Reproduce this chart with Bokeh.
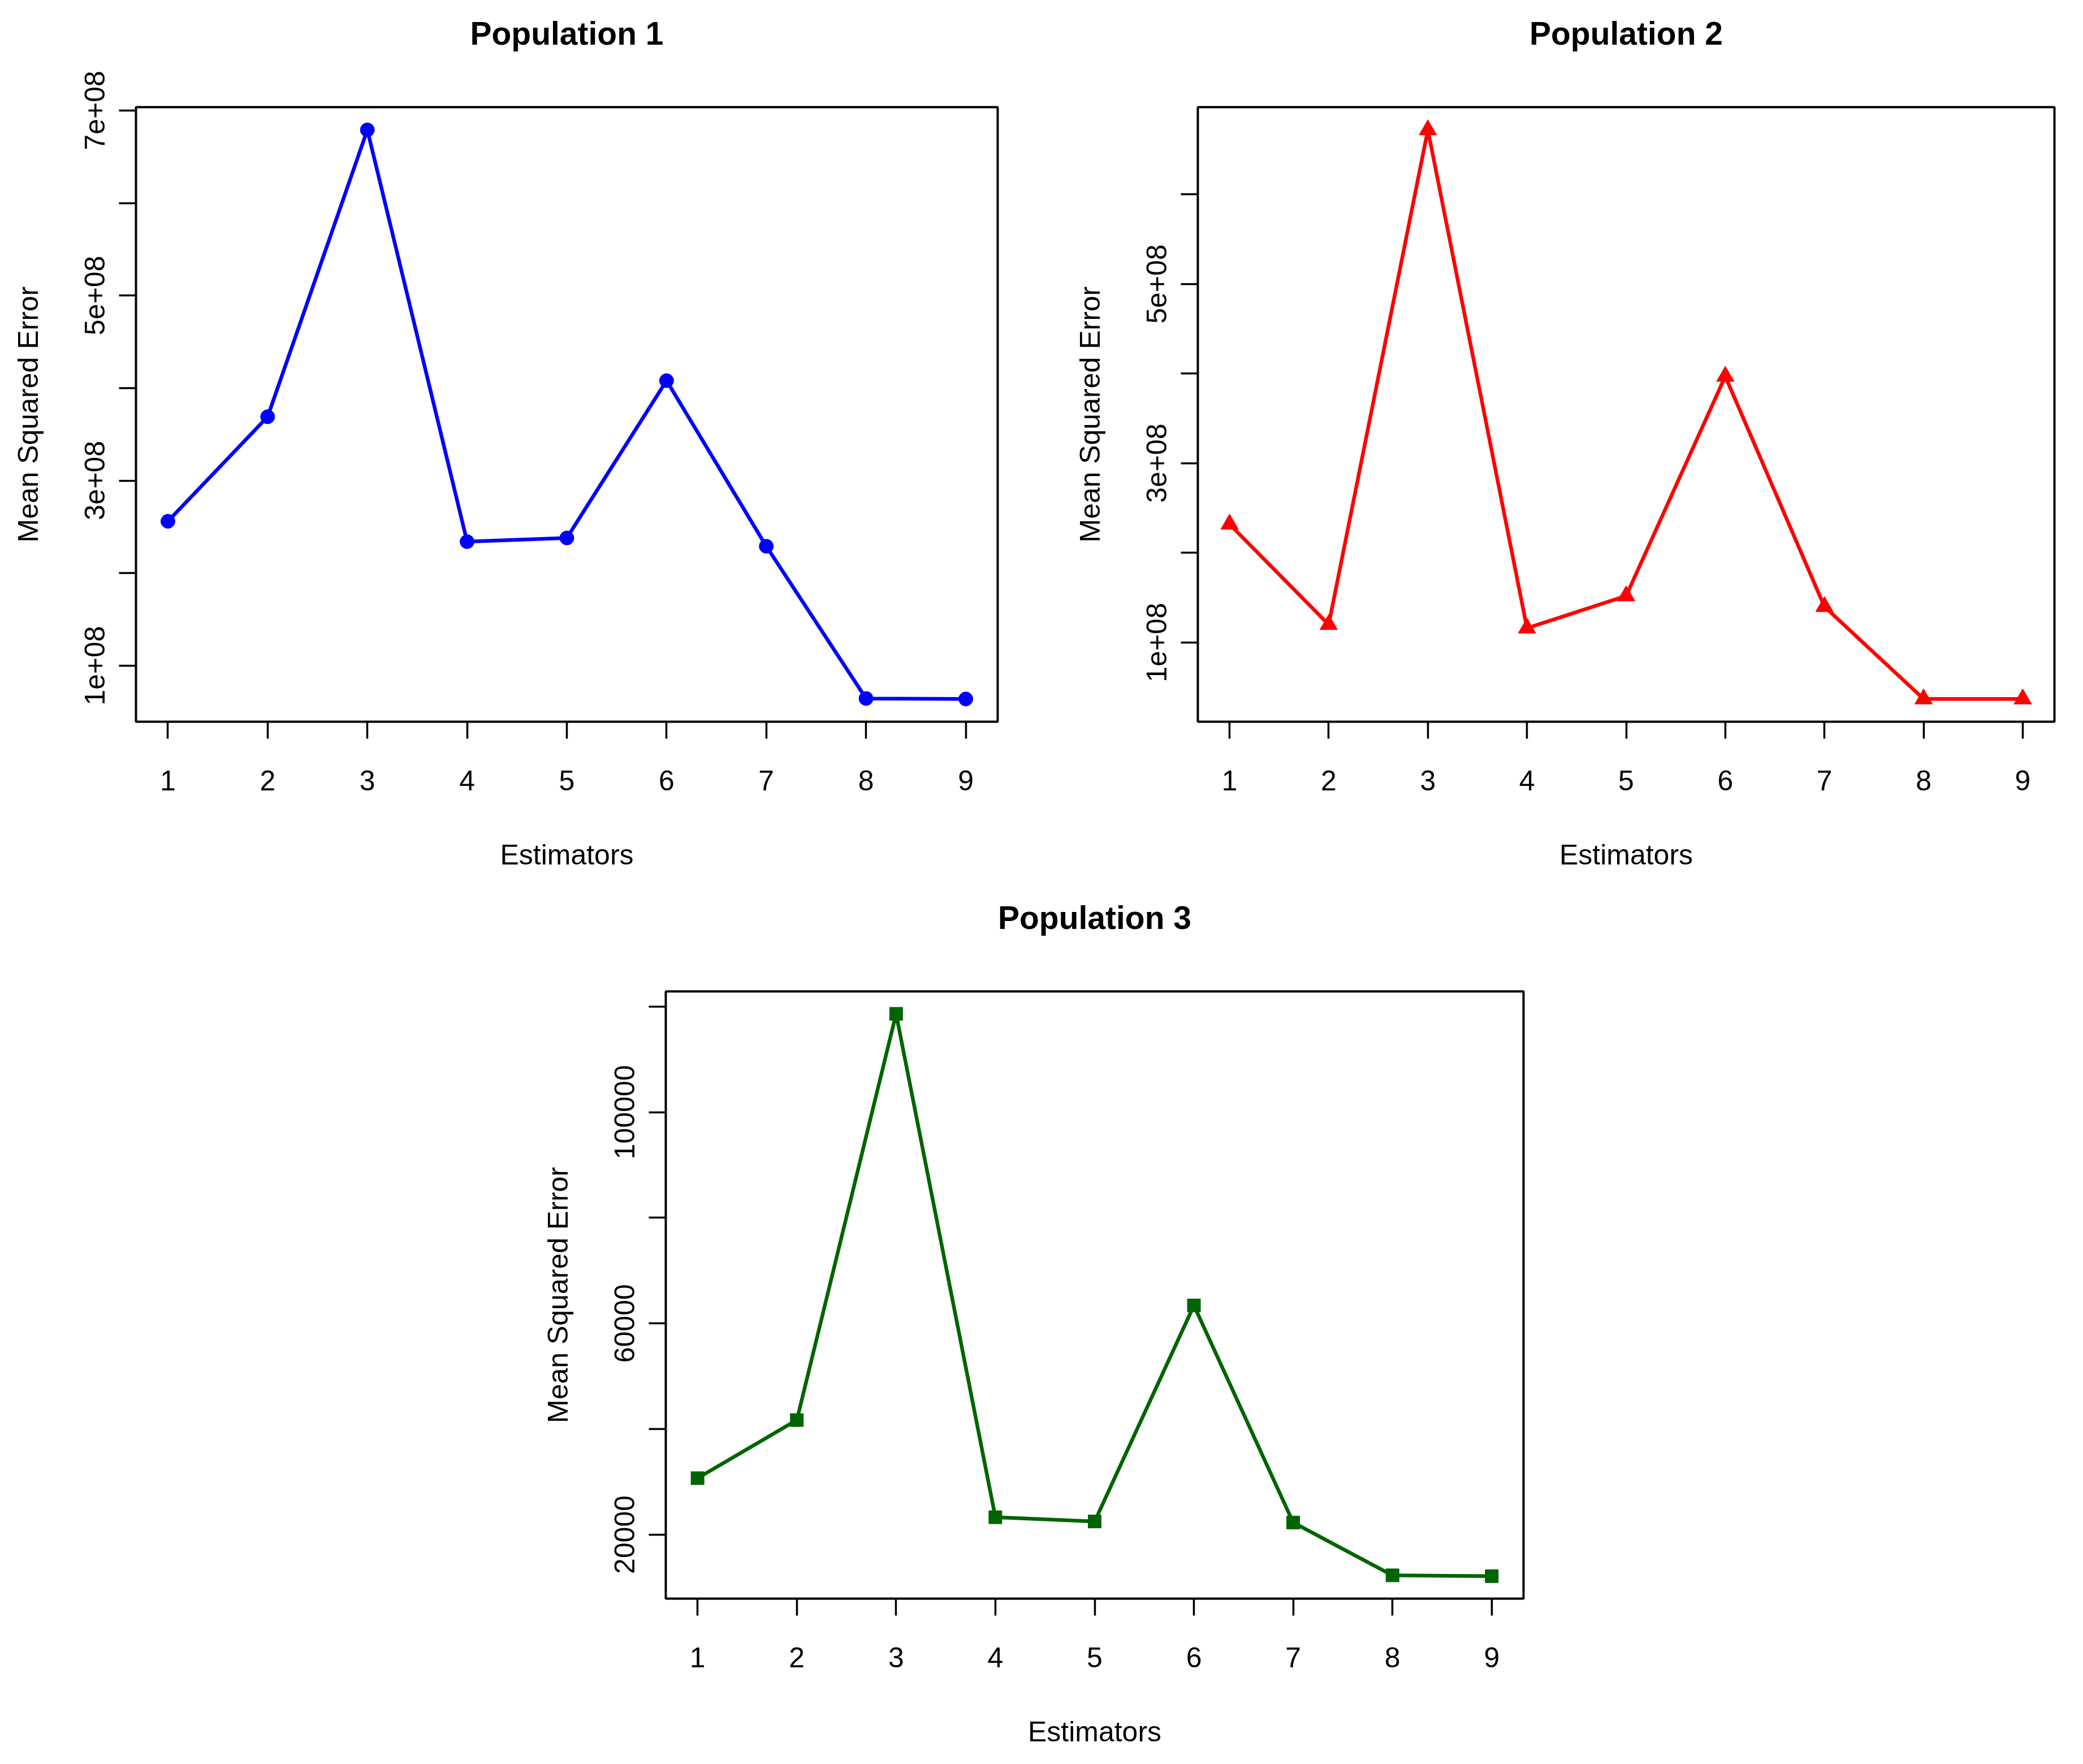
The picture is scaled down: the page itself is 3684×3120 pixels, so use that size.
import math
from bokeh.plotting import figure
from bokeh.layouts import column, row
from bokeh.models import Range1d, FixedTicker, Spacer, Title
from bokeh.embed import file_html
from bokeh.resources import INLINE

# ---------------- data ----------------
estimators = [1, 2, 3, 4, 5, 6, 7, 8, 9]
x_tick_labels = ["1", "2", "3", "4", "5", "6", "7", "8", "9"]

mse_pop1 = [2.56e8, 3.69e8, 6.79e8, 2.34e8, 2.38e8, 4.08e8, 2.29e8, 0.645e8, 0.64e8]
mse_pop2 = [2.32e8, 1.20e8, 6.72e8, 1.16e8, 1.52e8, 3.97e8, 1.40e8, 0.37e8, 0.37e8]
mse_pop3 = [30700, 41700, 118600, 23300, 22500, 63400, 22300, 12300, 12150]

pop1_y_ticks = [100000000, 200000000, 300000000, 400000000, 500000000, 600000000, 700000000]
pop1_y_labels = ["1e+08", "", "3e+08", "", "5e+08", "", "7e+08"]
pop2_y_ticks = [100000000, 200000000, 300000000, 400000000, 500000000, 600000000]
pop2_y_labels = ["1e+08", "", "3e+08", "", "5e+08", ""]
pop3_y_ticks = [20000, 40000, 60000, 80000, 100000, 120000]
pop3_y_labels = ["20000", "", "60000", "", "100000", ""]

titles = ["Population 1", "Population 2", "Population 3"]
x_title = "Estimators"
y_title = "Mean Squared Error"

FONT = "Liberation Sans"


def padded(vals, frac=0.04):
    lo, hi = min(vals), max(vals)
    d = hi - lo
    return lo - frac * d, hi + frac * d


def panel(title, yvals, color, marker, msize, yticks, ylabels,
          fw, fh, bl, br, bt, bb):
    x0, x1 = padded(estimators)
    y0, y1 = padded(yvals)
    p = figure(width=bl + fw + br, height=bt + fh + bb,
               min_border_left=bl, min_border_right=br,
               min_border_top=bt, min_border_bottom=bb,
               x_range=Range1d(x0, x1), y_range=Range1d(y0, y1),
               output_backend="svg", toolbar_location=None)
    p.background_fill_color = "white"
    p.border_fill_color = "white"
    p.outline_line_color = "black"
    p.outline_line_width = 4
    p.grid.visible = False

    # empty spacer title next to the plot box, then the main title above it
    p.add_layout(Title(text=" ", text_font=FONT, text_font_size="10px",
                       standoff=86, align="center"), "above")
    p.add_layout(Title(text=title, text_font=FONT, text_font_size="57px",
                       text_font_style="bold", text_color="black",
                       align="center", standoff=0), "above")

    xa = p.xaxis[0]
    xa.ticker = FixedTicker(ticks=estimators)
    xa.major_label_overrides = {e: l for e, l in zip(estimators, x_tick_labels)}
    ya = p.yaxis[0]
    ya.ticker = FixedTicker(ticks=yticks)
    ya.major_label_overrides = {t: l for t, l in zip(yticks, ylabels)}
    ya.major_label_orientation = "parallel"

    xa.axis_label = x_title
    ya.axis_label = y_title
    for ax in (xa, ya):
        ax.axis_line_color = None
        ax.major_tick_out = 30
        ax.major_tick_in = 0
        ax.major_tick_line_width = 3.5
        ax.major_tick_line_color = "black"
        ax.minor_tick_line_color = None
        ax.major_label_text_font = FONT
        ax.major_label_text_font_size = "50px"
        ax.major_label_text_color = "black"
        ax.axis_label_text_font = FONT
        ax.axis_label_text_font_size = "50px"
        ax.axis_label_text_font_style = "normal"
        ax.axis_label_text_color = "black"
    xa.major_label_standoff = 56
    xa.axis_label_standoff = 83
    ya.major_label_standoff = 25
    ya.axis_label_standoff = 70

    p.line(estimators, yvals, line_color=color, line_width=6.5)
    p.scatter(estimators, yvals, marker=marker, size=msize,
              fill_color=color, line_color=color, line_width=1)
    return p


p1 = panel(titles[0], mse_pop1, "#0000FF", "circle", 25,
           pop1_y_ticks, pop1_y_labels, 1524, 1087, 240, 60, 189, 276)
p2 = panel(titles[1], mse_pop2, "#FF0000", "triangle", 31,
           pop2_y_ticks, pop2_y_labels, 1515, 1087, 294, 35, 189, 276)
p3 = panel(titles[2], mse_pop3, "#006400", "square", 23,
           pop3_y_ticks, pop3_y_labels, 1517, 1074, 240, 60, 201, 277)

layout = column(row(p1, p2), row(Spacer(width=937, height=10), p3))

open("out.html", "w").write(file_html(layout, INLINE))
